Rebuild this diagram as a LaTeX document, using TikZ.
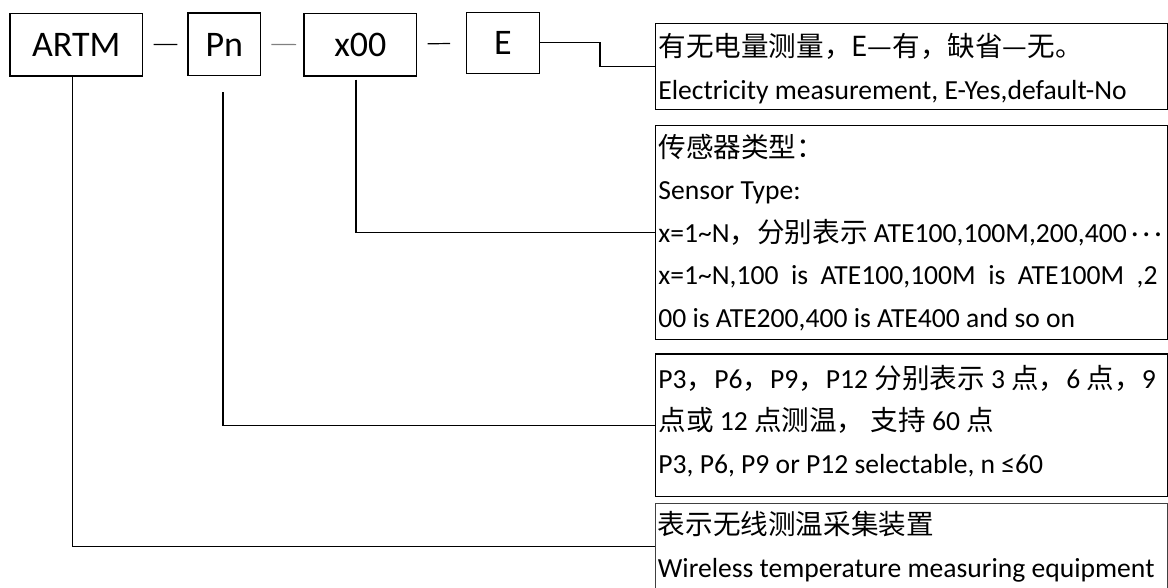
\documentclass[tikz,border=0pt]{standalone}
\usepackage{fontspec}
\setmainfont{Carlito}
\newfontfamily\cjk{Noto Sans CJK SC}
\tikzset{codebox/.style={draw,line width=0.6pt,inner sep=0pt,minimum height=31.4pt,
   font=\fontsize{18}{18}\selectfont},
 descbox/.style={draw,line width=0.6pt,inner sep=0pt,anchor=north west,minimum width=256.2pt},
 desctext/.style={anchor=west,align=left,inner sep=0pt,xshift=1.5pt,
   font=\fontsize{13.8}{21.25}\selectfont},
 link/.style={line width=0.6pt},
 sep/.style={line width=0.6pt},
 }

\begin{document}
\begin{tikzpicture}[x=0.5pt,y=-0.5pt]
        \useasboundingbox (0,0) rectangle (1168,588);
        % code parts
        \node[codebox,minimum width=66.4pt] (artm) at (76.3,44.7) {ARTM};
        \node[codebox,minimum width=36.4pt] (pn) at (224.3,44.5) {Pn};
        \node[codebox,minimum width=56.4pt] (x00) at (360.3,44.7) {x00};
        \node[codebox,minimum width=36.3pt,minimum height=30.5pt] (e) at (503,42.8) {E};
        \draw[sep,shorten <=5.15pt,shorten >=5pt] (artm) -- (pn);
        \draw[sep,gray,shorten <=5pt,shorten >=3.65pt] (pn) -- (x00);
        \draw[sep,shorten <=5.15pt,shorten >=8pt] (x00) -- (e);
        % descriptions
        \node[descbox,minimum height=43.3pt] (ebox) at (655,22.7) {};
        \node[desctext,yshift=-1pt] (etext) at (ebox.west) {{\cjk 有无电量测量，E—有，缺省—无。}\\
            Electricity measurement, E-Yes,default-No};
        \node[descbox,minimum height=107pt] (sbox) at (655,124.7) {};
        \node[desctext] (stext) at (sbox.west) {{\cjk 传感器类型：}\\
            Sensor Type:\\
            x=1\textasciitilde N{\cjk ，分别表示} ATE100,100M,200,400\,·\,·\,·\\
            x=1\textasciitilde N,100\ \ is\ \ ATE100,100M\ \ is\ \ ATE100M\ \ ,2\\
            00 is ATE200,400 is ATE400 and so on};
        \node[descbox,minimum height=71pt] (pbox) at (655,353.5) {};
        \node[desctext,yshift=2.2pt] (ptext) at (pbox.west) {P3{\cjk ，}P6{\cjk ，}P9{\cjk ，}P12 {\cjk 分别表示} 3 {\cjk 点，}6 {\cjk 点，}9\\
            {\cjk 点或} 12 {\cjk 点测温，} {\cjk 支持} 60 {\cjk 点}\\
            P3, P6, P9 or P12 selectable, n ≤60};
        \node[descbox,draw=black!75,minimum height=43pt] (wbox) at (654.5,503) {};
        \node[desctext] (wtext) at (wbox.west) {{\cjk 表示无线测温采集装置}\\
            Wireless temperature measuring equipment};
        % connectors
        \coordinate (xtop) at ([xshift=-2.15pt,yshift=-1.5pt]x00.south);
        \coordinate (ptop) at ([xshift=-0.65pt,yshift=-8pt]pn.south);
        \coordinate (atop) at ([xshift=-1.8pt]artm.south);
        \draw[link] (e.east) -- ++(60,0) |- (ebox.west);
        \draw[link] (xtop) |- (sbox.west);
        \draw[link] (ptop) |- (pbox.west);
        \draw[link] (atop) |- (wbox.west);
    \end{tikzpicture}
\end{document}
